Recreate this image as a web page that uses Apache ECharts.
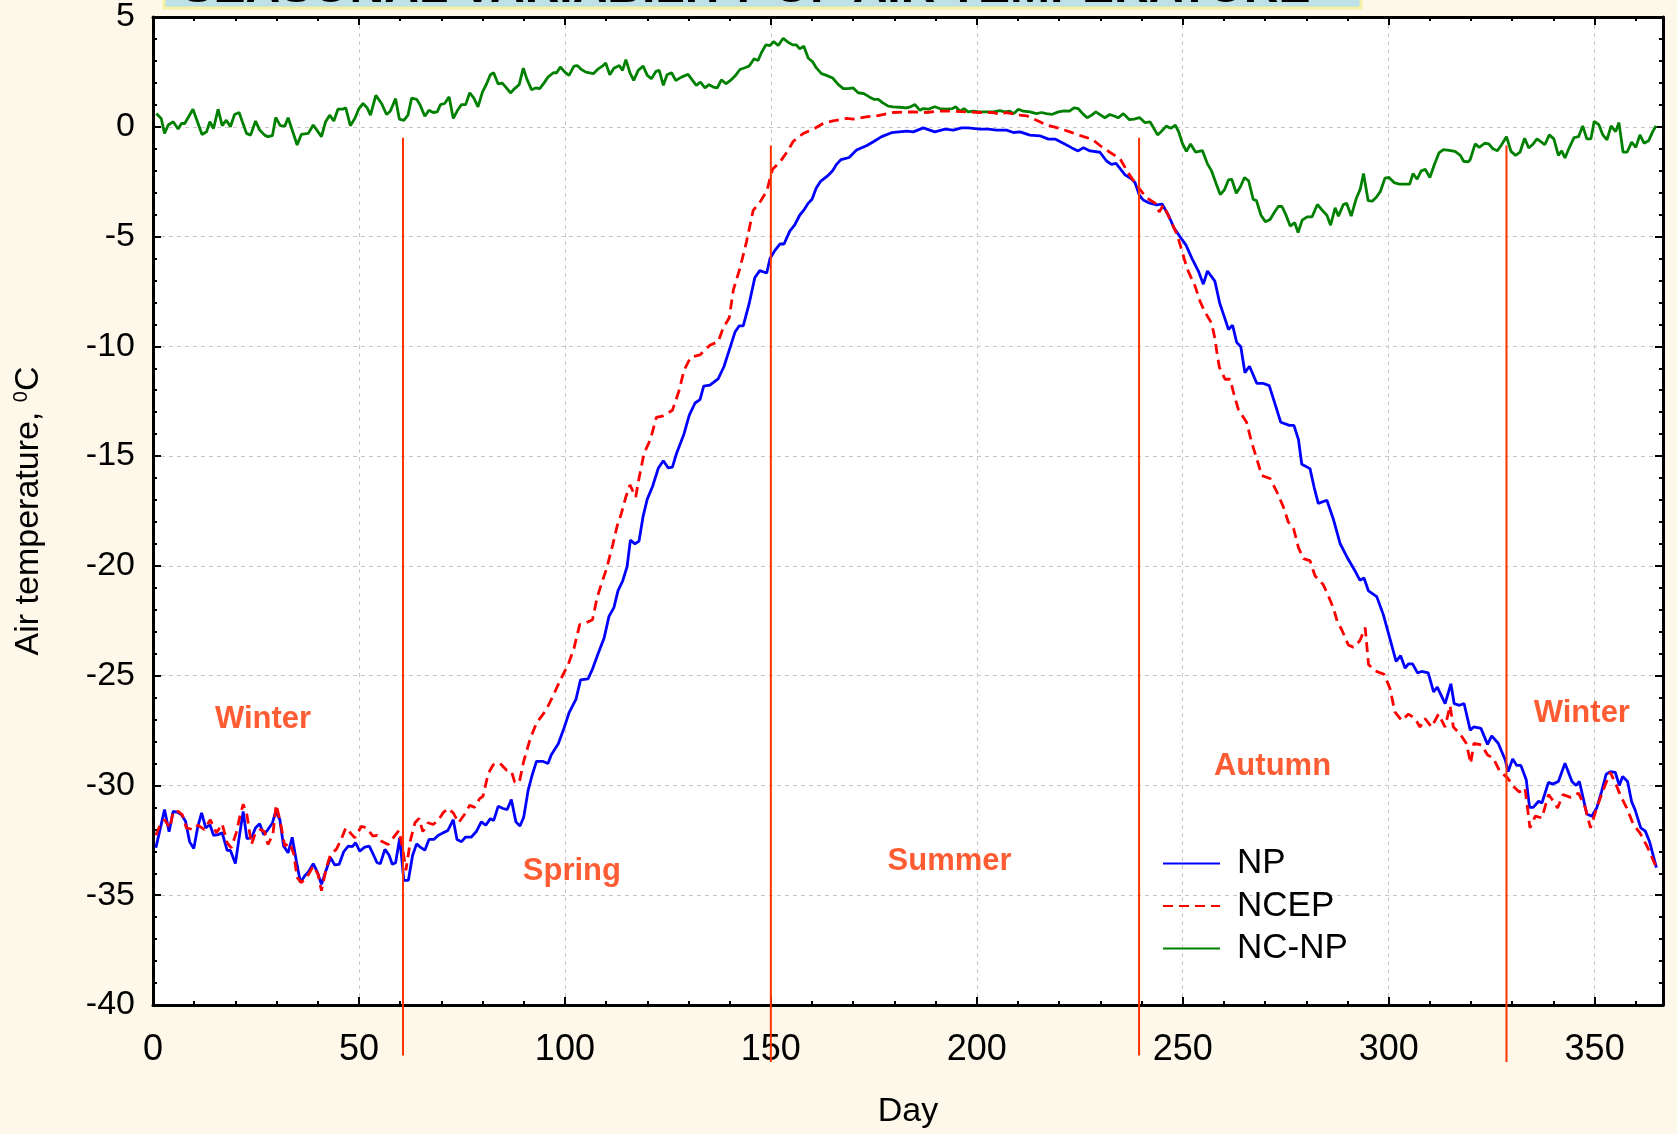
<!DOCTYPE html>
<html>
<head>
<meta charset="utf-8">
<title>Seasonal variability of air temperature</title>
<script src="https://cdn.jsdelivr.net/npm/echarts@6/dist/echarts.min.js"></script>
<style>
  html, body { margin: 0; padding: 0; background: #fdf8ea; }
  #chart { width: 1677px; height: 1134px; }
</style>
</head>
<body>
<div id="chart"></div>
<script>
// [day of year, air temperature °C]
const npPoints = [
  [0.7,-32.84],[1.8,-31.93],[2.8,-31.10],[3.9,-32.11],[4.9,-31.18],[5.8,-31.21],[6.9,-31.33],[7.9,-31.63],[8.9,-32.57],[9.9,-32.87],
  [10.9,-31.86],[11.8,-31.25],[12.8,-31.93],[13.8,-31.78],[14.7,-32.27],[15.8,-32.24],[16.8,-32.16],[18.0,-32.96],[18.8,-32.96],[20.0,-33.56],
  [20.9,-32.39],[21.9,-31.18],[22.8,-32.42],[23.9,-32.39],[24.9,-31.93],[25.9,-31.75],[26.9,-32.24],[27.9,-32.01],[29.0,-31.71],[29.8,-31.18],
  [30.8,-31.56],[31.7,-32.76],[32.8,-33.07],[33.8,-32.36],[34.8,-33.44],[35.8,-34.42],[36.8,-34.12],[37.6,-33.97],[38.9,-33.56],[39.8,-33.90],
  [40.9,-34.50],[42.0,-33.87],[43.1,-33.29],[44.1,-33.62],[45.2,-33.59],[46.3,-33.02],[47.4,-32.76],[48.4,-32.79],[49.2,-32.61],[50.2,-32.99],
  [51.4,-32.81],[52.5,-32.76],[53.4,-33.11],[54.4,-33.52],[55.2,-33.56],[56.3,-32.91],[57.3,-33.17],[58.1,-33.59],[58.9,-33.52],[59.9,-32.39],
  [60.9,-34.32],[62.0,-34.32],[63.0,-33.2],[64.0,-32.66],[64.9,-32.81],[66.0,-32.95],[67.0,-32.46],[68.2,-32.46],[69.2,-32.28],[70.4,-32.16],
  [71.6,-32.05],[72.9,-31.56],[73.8,-32.46],[74.9,-32.56],[75.9,-32.35],[77.3,-32.35],[78.5,-32.1],[79.7,-31.66],[80.8,-31.81],[81.9,-31.51],
  [82.7,-31.60],[83.8,-30.95],[85.0,-31.05],[86.0,-31.10],[87.0,-30.64],[88.1,-31.66],[89.1,-31.85],[90.0,-31.45],[91.1,-30.2],[92.1,-29.5],
  [93.1,-28.9],[94.6,-28.9],[95.9,-29.0],[96.7,-28.6],[98.4,-28.1],[99.6,-27.49],[101.0,-26.7],[102.7,-26.07],[103.8,-25.19],[105.6,-25.15],
  [106.7,-24.7],[108.1,-23.98],[109.5,-23.3],[110.7,-22.3],[111.9,-21.9],[112.9,-21.13],[114.0,-20.7],[115.1,-20.03],[115.9,-18.83],[117.0,-19.0],
  [118.0,-18.87],[119.0,-17.73],[120.0,-16.96],[121.3,-16.37],[122.7,-15.54],[123.9,-15.21],[125.1,-15.54],[126.1,-15.5],[127.1,-14.88],[128.9,-14.0],
  [130.2,-13.13],[131.6,-12.58],[132.8,-12.43],[133.7,-11.81],[135.2,-11.77],[137.2,-11.48],[138.6,-10.93],[139.9,-10.17],[141.3,-9.35],[142.3,-9.07],
  [143.3,-9.07],[144.7,-8.08],[146.1,-6.88],[147.3,-6.55],[149.0,-6.66],[149.8,-6.0],[151.0,-5.63],[152.2,-5.34],[153.2,-5.34],[154.6,-4.75],
  [155.8,-4.47],[157.0,-4.03],[158,-3.8],[159,-3.5],[160,-3.3],[161,-2.8],[162,-2.5],[163,-2.35],[164,-2.2],[165,-2.0],
  [166,-1.7],[167,-1.5],[168,-1.45],[169,-1.4],[170.8,-1.06],[173.2,-0.86],[174.9,-0.68],[176.9,-0.45],[179.3,-0.27],[183.0,-0.20],
  [184.6,-0.23],[187.0,-0.05],[189.8,-0.23],[192.3,-0.11],[194.3,-0.15],[196.3,-0.05],[197.9,-0.05],[200.8,-0.11],[202.8,-0.11],[204.8,-0.15],
  [207.2,-0.15],[208.9,-0.26],[210.5,-0.23],[212.9,-0.38],[215.3,-0.41],[217.4,-0.56],[219.0,-0.56],[221.0,-0.75],[223.0,-0.95],[224.6,-1.10],
  [225.9,-0.95],[227.5,-1.10],[229.9,-1.16],[231.5,-1.56],[232.7,-1.71],[233.8,-1.67],[234.8,-1.91],[236.0,-2.19],[237.6,-2.38],[238.4,-2.54],
  [239.5,-3.13],[240.4,-3.33],[242.0,-3.48],[243.7,-3.56],[245.0,-3.52],[246.5,-4.02],[247.9,-4.61],[249.3,-5.0],[250.8,-5.39],[252.2,-5.98],
  [253.8,-6.57],[255.0,-7.17],[256.0,-6.57],[257.8,-7.03],[259.0,-8.05],[260.0,-8.6],[261.1,-9.23],[262.1,-9.04],[263.1,-9.82],[264.1,-10.02],
  [265.1,-11.2],[266.2,-10.91],[268.0,-11.69],[269.6,-11.69],[271.0,-11.79],[272.4,-12.62],[273.8,-13.46],[275.9,-13.6],[277.0,-13.6],[278.1,-14.25],
  [278.9,-15.37],[280.9,-15.57],[281.9,-16.42],[282.9,-17.15],[285.0,-17.01],[286.6,-17.89],[288.2,-18.98],[289.8,-19.57],[291.8,-20.22],[293.0,-20.65],
  [294.0,-20.55],[295.1,-21.14],[297.1,-21.4],[298.7,-22.22],[300.3,-23.31],[301.8,-24.35],[302.9,-24.09],[304.0,-24.66],[304.8,-24.46],[305.8,-24.46],
  [307.0,-24.87],[308.0,-24.81],[309.6,-24.87],[310.9,-25.74],[311.8,-25.52],[313.7,-26.27],[315.1,-25.37],[315.9,-26.27],[317.2,-26.35],[318.3,-26.27],
  [319.8,-27.48],[320.7,-27.33],[322.4,-27.40],[324.0,-28.13],[325.0,-27.74],[326.6,-28.08],[328.3,-28.84],[329.0,-29.37],[330.1,-28.79],[331.1,-29.09],
  [332.1,-29.09],[333.4,-29.74],[334.2,-31.0],[335.1,-31.0],[336.4,-30.72],[337.2,-30.8],[338.8,-29.86],[339.8,-29.94],[341.2,-29.82],[342.8,-28.99],
  [344.5,-29.82],[345.5,-30.0],[346.3,-29.82],[348.1,-31.3],[349.3,-31.4],[350.5,-31.03],[351.7,-30.27],[352.8,-29.49],[353.8,-29.37],[355.0,-29.4],
  [356.0,-30.0],[356.8,-29.59],[358.0,-29.82],[359.0,-30.75],[359.8,-31.1],[361.2,-31.93],[362.3,-32.08],[363.3,-32.54],[365.0,-33.74]
];

const ncepPoints = [
  [0.7,-32.27],[1.6,-31.86],[2.8,-31.56],[4.1,-31.93],[4.9,-31.18],[6.1,-31.18],[7.1,-31.33],[8.1,-31.93],[9.7,-32.01],[10.9,-31.81],
  [12.5,-32.01],[13.9,-31.56],[15.4,-32.16],[16.8,-31.75],[18.0,-32.61],[19.0,-32.84],[20.2,-32.16],[21.1,-31.41],[21.9,-30.85],[22.8,-31.33],
  [23.9,-32.69],[24.9,-32.16],[26.1,-32.01],[27.1,-32.11],[27.9,-32.69],[29.1,-32.24],[29.9,-30.88],[30.8,-31.56],[32.0,-32.76],[33.2,-32.61],
  [34.2,-33.14],[35.0,-34.20],[36.0,-34.42],[37.2,-34.23],[38.9,-33.67],[40.1,-34.05],[40.9,-34.80],[42.1,-33.74],[43.1,-33.14],[44.5,-32.91],
  [45.7,-32.46],[46.8,-31.93],[47.9,-32.16],[49.0,-32.39],[50.6,-31.86],[51.8,-31.93],[53.4,-32.31],[54.4,-32.27],[55.5,-32.54],[57.1,-32.69],
  [58.3,-32.39],[59.7,-32.05],[60.6,-32.84],[61.4,-33.87],[62.5,-32.5],[63.6,-31.7],[64.6,-31.5],[65.5,-32.1],[66.8,-31.7],[68.0,-31.78],
  [69.2,-31.6],[70.4,-31.25],[71.6,-31.05],[72.9,-31.25],[74.2,-31.7],[75.7,-31.3],[76.9,-30.9],[78.1,-31.0],[79.3,-30.6],[80.1,-30.5],
  [81.4,-29.45],[82.6,-29.06],[84.2,-28.98],[85.8,-29.3],[87.0,-29.35],[87.8,-29.84],[88.9,-29.88],[90.0,-28.9],[91.6,-27.86],[93.1,-27.16],
  [95.5,-26.55],[97.2,-25.89],[98.9,-25.19],[100.8,-24.49],[102.2,-23.76],[103.6,-22.67],[105.1,-22.6],[106.7,-22.45],[107.8,-21.46],[108.9,-20.8],
  [110.1,-20.14],[111.6,-19.05],[112.7,-18.17],[113.7,-17.62],[114.8,-16.86],[115.8,-16.31],[117.2,-16.86],[117.8,-16.2],[119.2,-14.88],[120.8,-14.22],
  [122.2,-13.24],[123.9,-13.17],[126.1,-12.91],[127.7,-12.03],[128.9,-11.11],[130.5,-10.5],[132.8,-10.39],[135.2,-9.95],[137.2,-9.79],[138.4,-9.18],
  [139.9,-8.7],[140.9,-7.43],[142.5,-6.44],[144.1,-5.23],[145.7,-3.81],[147.2,-3.48],[149.0,-2.93],[150.4,-1.94],[152.2,-1.61],[154.2,-1.07],
  [155.4,-0.67],[157.9,-0.30],[160.3,-0.11],[162.7,0.15],[165.1,0.27],[168.4,0.38],[170.0,0.35],[173.2,0.45],[175.7,0.50],[179.7,0.65],
  [184.6,0.68],[187.8,0.65],[190.2,0.71],[194.3,0.71],[197.5,0.68],[200.8,0.65],[204.0,0.65],[205.6,0.56],[207.2,0.65],[210.5,0.53],
  [212.1,0.50],[215.3,0.23],[216.9,0.08],[220.2,-0.08],[222.6,-0.23],[225.9,-0.45],[227.9,-0.56],[230.3,-0.91],[232.3,-1.16],[234.8,-1.46],
  [236.8,-2.11],[238.0,-2.44],[239.5,-2.83],[241.2,-3.23],[243.3,-3.48],[244.3,-3.88],[245.3,-3.56],[246.9,-4.21],[248.7,-4.94],[249.7,-5.59],
  [251.1,-6.48],[253.0,-7.26],[254.2,-7.95],[255.4,-8.44],[257.0,-8.94],[257.8,-9.63],[258.4,-10.41],[258.9,-10.96],[260.3,-11.5],[261.5,-11.5],
  [262.3,-12.09],[263.5,-12.87],[265.5,-13.46],[266.7,-14.35],[268.0,-15.14],[269.2,-15.89],[271.2,-16.02],[272.8,-16.61],[274.4,-17.3],[275.6,-17.99],
  [276.9,-18.29],[278.1,-19.17],[279.3,-19.67],[280.9,-19.76],[282.1,-20.45],[284.1,-20.85],[285.3,-21.34],[286.6,-21.93],[287.5,-22.52],[288.6,-22.91],
  [290.2,-23.6],[291.4,-23.7],[293.0,-23.41],[294.3,-22.81],[295.1,-24.49],[296.7,-24.78],[298.9,-24.94],[300.3,-25.57],[301.5,-26.65],[303.2,-27.05],
  [304.8,-26.75],[306.4,-26.95],[307.6,-27.34],[308.8,-26.95],[310.4,-27.34],[312.1,-26.75],[313.7,-27.34],[314.9,-26.36],[315.7,-27.34],[317.3,-27.64],
  [318.9,-28.1],[319.9,-29.0],[320.7,-28.08],[322.6,-28.16],[324.0,-28.61],[325.4,-28.76],[327.0,-29.37],[328.8,-29.64],[330.3,-30.05],[331.7,-30.3],
  [333.1,-30.12],[334.3,-31.93],[335.6,-31.4],[337.2,-31.48],[338.8,-30.42],[340.0,-30.72],[341.0,-31.03],[342.3,-30.42],[344.2,-30.54],[346.1,-30.35],
  [347.7,-31.0],[349.0,-31.93],[350.5,-31.03],[352.1,-30.2],[353.8,-29.4],[355.2,-29.97],[356.2,-30.42],[357.8,-31.03],[359.4,-31.78],[361.0,-32.16],
  [362.7,-32.76],[365.0,-33.74]
];

// NCEP minus NP
const diffPoints = [
  [0.8,0.60],[2.0,0.38],[2.8,-0.30],[3.7,0.08],[4.9,0.23],[6.1,-0.10],[6.9,0.15],[7.7,0.15],[9.7,0.80],[11.9,-0.35],
  [13.0,-0.23],[13.8,0.23],[14.7,-0.08],[15.8,0.80],[16.8,0.05],[17.8,0.30],[18.8,0.00],[19.8,0.56],[20.9,0.65],[22.7,-0.30],
  [23.7,-0.38],[24.9,0.26],[25.9,-0.15],[27.1,-0.38],[27.9,-0.45],[29.0,-0.40],[29.8,0.42],[30.9,0.05],[32.0,0.03],[32.8,0.41],
  [35.0,-0.83],[36.0,-0.35],[37.7,-0.30],[38.9,0.08],[40.9,-0.45],[41.9,0.23],[42.9,0.53],[43.9,0.26],[44.9,0.80],[46.0,0.80],
  [46.8,0.86],[47.9,0.05],[49.0,0.38],[50.0,0.83],[51.0,1.06],[52.0,0.86],[52.8,0.53],[54.1,1.43],[55.5,1.06],[56.7,0.56],
  [57.6,0.71],[58.9,1.28],[59.8,0.35],[60.9,0.29],[61.9,0.53],[62.8,1.31],[64.0,1.25],[64.8,1.01],[66.0,0.48],[67.0,0.75],
  [68.0,0.65],[69.0,0.68],[69.8,1.01],[70.8,1.06],[71.9,1.36],[72.9,0.38],[74.1,0.80],[74.9,1.01],[75.9,1.01],[76.9,1.55],
  [77.9,1.31],[78.9,0.91],[80.0,1.59],[81.0,1.96],[81.9,2.37],[82.7,2.46],[83.8,1.95],[84.8,1.99],[85.8,1.77],[86.8,1.54],
  [87.8,1.74],[88.9,1.92],[89.9,2.67],[90.8,2.16],[91.9,1.69],[92.9,1.77],[93.9,1.74],[94.9,1.99],[95.9,2.26],[97.2,2.46],
  [98.0,2.46],[98.9,2.72],[100.0,2.49],[101.0,2.34],[102.2,2.76],[103.0,2.79],[104.0,2.61],[105.1,2.49],[106.9,2.42],[108.1,2.64],
  [109.1,2.76],[109.9,2.91],[110.9,2.37],[111.9,2.67],[113.2,2.79],[114.0,2.57],[114.8,3.06],[115.8,2.46],[116.7,2.11],[117.8,2.57],
  [119.0,2.76],[120.0,2.34],[121.0,2.19],[122.1,2.52],[122.9,2.57],[123.9,1.89],[124.8,2.37],[125.9,2.46],[126.9,2.11],[128.3,2.26],
  [129.9,2.39],[131.0,2.11],[131.9,1.89],[132.9,2.04],[134.0,1.77],[135.0,1.92],[136.0,1.81],[137.0,1.77],[138.0,2.14],[139.1,1.96],
  [140.2,2.11],[141.3,2.31],[142.5,2.61],[143.7,2.69],[144.7,2.76],[145.9,3.09],[146.9,3.02],[147.7,3.37],[148.8,3.73],[149.8,3.70],
  [150.7,3.88],[151.8,3.70],[153.0,4.03],[154.2,3.85],[155.3,3.73],[156.2,3.73],[157.0,3.55],[158.0,3.67],[159.1,3.12],[160.1,2.97],
  [161.1,2.67],[162.3,2.42],[163.5,2.34],[165.0,2.22],[166.4,1.92],[167.6,1.74],[168.8,1.74],[170.0,1.77],[171.2,1.55],[172.6,1.51],
  [173.9,1.36],[175.0,1.25],[176.1,1.25],[177.1,1.10],[178.5,0.94],[179.7,0.91],[181.3,0.89],[182.9,0.86],[183.9,0.91],[185.0,1.01],
  [186.2,0.75],[187.0,0.83],[188.2,0.80],[189.8,0.91],[191.0,0.83],[192.7,0.80],[194.1,0.83],[194.9,0.91],[195.9,0.71],[196.9,0.83],
  [197.9,0.68],[199.1,0.71],[200.6,0.68],[202.4,0.68],[204.0,0.68],[205.6,0.74],[206.8,0.68],[208.0,0.71],[209.0,0.60],[210.1,0.80],
  [211.3,0.71],[212.9,0.68],[214.5,0.60],[215.7,0.65],[216.9,0.60],[218.2,0.56],[219.8,0.68],[221.2,0.72],[222.5,0.71],[223.6,0.86],
  [224.6,0.83],[225.7,0.60],[226.8,0.41],[227.9,0.53],[228.9,0.68],[230.1,0.53],[231.1,0.41],[232.3,0.56],[233.5,0.48],[234.3,0.41],
  [235.6,0.60],[237.0,0.33],[238.2,0.35],[239.5,0.42],[240.8,0.19],[242.1,0.22],[243.9,-0.37],[244.9,-0.19],[246.0,0.03],[247.1,-0.07],
  [248.2,0.07],[249.0,-0.22],[249.9,-0.75],[250.9,-1.12],[251.9,-0.78],[253.1,-1.15],[254.8,-1.09],[256.0,-1.69],[257.0,-2.01],[258.1,-2.58],
  [259.1,-3.09],[260.1,-2.88],[261.1,-2.42],[261.9,-2.39],[263.0,-3.03],[264.0,-2.73],[265.0,-2.31],[266.0,-2.46],[267.1,-3.31],[267.9,-3.36],
  [269.0,-4.03],[270.1,-4.33],[271.2,-4.22],[272.3,-3.88],[273.2,-3.63],[274.1,-3.63],[275.0,-3.99],[276.1,-4.52],[277.2,-4.37],[278.0,-4.82],
  [279.0,-4.25],[280.2,-4.10],[281.4,-4.10],[282.7,-3.54],[283.9,-3.81],[285.0,-4.03],[285.9,-4.48],[287.0,-3.69],[287.8,-4.07],[289.0,-3.54],
  [289.8,-3.48],[290.9,-4.07],[292.1,-3.28],[293.1,-2.84],[293.9,-2.13],[295.0,-3.36],[296.0,-3.39],[297.0,-3.21],[298.0,-2.94],[299.1,-2.34],
  [300.1,-2.31],[301.3,-2.54],[302.6,-2.61],[304.0,-2.61],[305.1,-2.61],[305.9,-2.13],[306.9,-2.39],[307.9,-2.01],[308.9,-1.94],[310.0,-2.31],
  [311.1,-1.72],[312.2,-1.19],[313.3,-1.04],[314.7,-1.07],[316.1,-1.12],[317.4,-1.30],[318.2,-1.57],[319.3,-1.60],[319.8,-1.49],[321.0,-0.78],
  [322.0,-0.94],[323.3,-0.75],[324.3,-0.78],[325.3,-1.00],[326.4,-1.09],[327.4,-0.82],[328.6,-0.45],[329.7,-1.12],[330.8,-1.30],[331.9,-1.15],
  [333.0,-0.52],[334.0,-0.97],[334.9,-0.82],[336.0,-0.55],[337.1,-0.70],[337.9,-0.82],[339.0,-0.37],[340.1,-0.55],[341.2,-1.30],[342.0,-1.09],
  [342.8,-1.42],[343.8,-0.97],[345.0,-0.49],[346.1,-0.45],[347.1,0.04],[348.1,-0.55],[349.1,-0.55],[349.9,0.25],[351.0,0.10],[352.0,-0.37],
  [353.0,-0.60],[354.0,0.04],[355.1,-0.22],[355.9,0.19],[356.9,-1.15],[357.9,-1.15],[359.0,-0.70],[360.0,-0.94],[361.0,-0.37],[362.0,-0.75],
  [363.1,-0.64],[364.1,-0.22],[364.9,0.04]
];

// season boundaries (day) and the extent of each marker line (°C)
const boundaryDays = [60.7, 150.0, 239.4, 328.6];
const boundaryTop = [-0.5, -0.85, -0.5, -0.85];
const boundaryBottom = [-42.3, -42.6, -42.3, -42.6];

const seasonNames = ['Winter', 'Spring', 'Summer', 'Autumn', 'Winter'];
const seasonDays = [26.7, 101.7, 193.4, 271.8, 346.9];
const seasonTemps = [-27.0, -33.9, -33.48, -29.12, -26.72];

const SANS = '"Liberation Sans", Arial, sans-serif';
const BLACK = '#000';
const SEASON_RED = '#ff3300';

const X_MIN = 0, X_MAX = 366.6;
const gridDash = { color: '#c8c8c8', type: [4, 4], width: 1 };

function xAxisDef(pos, interval, major) {
  return {
    type: 'value', position: pos, min: X_MIN, max: X_MAX, interval: interval,
    axisLine: { show: major, onZero: false, lineStyle: { color: BLACK, width: 3 } },
    axisTick: { show: true, inside: true, length: major ? 8 : 4, lineStyle: { color: BLACK, width: 2 } },
    axisLabel: { show: false },
    splitLine: { show: false },
  };
}

const xAxes = [
  Object.assign(xAxisDef('bottom', 50, true), {
    axisLabel: { show: true, margin: 27, fontFamily: SANS, fontSize: 36, color: BLACK, showMaxLabel: false },
    splitLine: { show: true, lineStyle: gridDash },
    name: 'Day', nameLocation: 'middle', nameGap: 90,
    nameTextStyle: { fontFamily: SANS, fontSize: 34, color: BLACK },
  }),
  xAxisDef('bottom', 10, false),
  xAxisDef('top', 50, true),
  xAxisDef('top', 10, false),
];

function yAxisDef(pos) {
  return {
    type: 'value', position: pos, min: -40, max: 5, interval: 5,
    axisLine: { show: true, onZero: false, lineStyle: { color: BLACK, width: 3 } },
    axisTick: { show: true, inside: true, length: 8, lineStyle: { color: BLACK, width: 2 } },
    minorTick: { show: true, splitNumber: 5, length: 4, lineStyle: { color: BLACK, width: 2 } },
    axisLabel: { show: false },
    splitLine: { show: false },
  };
}

const yAxes = [
  Object.assign(yAxisDef('left'), {
    axisLabel: { show: true, margin: 18, fontFamily: SANS, fontSize: 34, color: BLACK },
    splitLine: { show: true, lineStyle: gridDash },
    name: 'Air temperature, {sup|0}C', nameLocation: 'middle', nameRotate: 90, nameGap: 106,
    nameTextStyle: {
      fontFamily: SANS, fontSize: 34, color: BLACK, lineHeight: 36,
      rich: { sup: { fontFamily: SANS, fontSize: 20, color: BLACK, verticalAlign: 'top', lineHeight: 36 } },
    },
  }),
  yAxisDef('right'),
];

const chart = echarts.init(document.getElementById('chart'));

chart.setOption({
  backgroundColor: '#fdf8ea',
  animation: false,
  grid: { left: 153, right: 14, top: 14.5, bottom: 126, show: true, backgroundColor: '#ffffff', borderWidth: 0 },
  graphic: [
    // title banner, mostly cut off by the top edge
    { type: 'rect', shape: { x: 164, y: -40, width: 1197, height: 48 }, style: { fill: '#bde1e6', stroke: '#f4f0a4', lineWidth: 3 }, silent: true, z: 10 },
    { type: 'text', x: 746, y: -11, style: { text: 'SEASONAL VARIABILITY OF AIR TEMPERATURE', font: 'bold 48px ' + SANS, fill: BLACK, align: 'center', verticalAlign: 'middle' }, silent: true, z: 11 },
  ],
  legend: {
    orient: 'vertical', left: 1162, top: 846, padding: 0, itemGap: 7.5,
    itemWidth: 57, itemHeight: 14,
    itemStyle: { opacity: 0 },
    textStyle: { fontFamily: SANS, fontSize: 35, color: BLACK, padding: [0, 0, 0, 12] },
    data: ['NP', 'NCEP', 'NC-NP'],
  },
  xAxis: xAxes,
  yAxis: yAxes,
  series: [
    {
      name: 'NP', type: 'line', data: npPoints, symbol: 'none', z: 3,
      lineStyle: { color: '#0000ff', width: 2.8 }, itemStyle: { color: '#0000ff' },
    },
    {
      name: 'NCEP', type: 'line', data: ncepPoints, symbol: 'none', z: 4,
      lineStyle: { color: '#ff0000', width: 2.8, type: [10, 6] }, itemStyle: { color: '#ff0000' },
    },
    {
      name: 'NC-NP', type: 'line', data: diffPoints, symbol: 'none', z: 3,
      lineStyle: { color: '#008000', width: 2.8 }, itemStyle: { color: '#008000' },
    },
    ...boundaryDays.map((d, i) => ({
      type: 'line', data: [[d, boundaryTop[i]], [d, boundaryBottom[i]]], symbol: 'none', clip: false, silent: true, z: 5,
      lineStyle: { color: SEASON_RED, width: 2 },
    })),
    {
      type: 'scatter', symbolSize: 0, silent: true, z: 6,
      data: seasonNames.map((n, i) => ({ name: n, value: [seasonDays[i], seasonTemps[i]] })),
      label: { show: true, position: 'inside', formatter: '{b}', color: SEASON_RED, fontFamily: SANS, fontWeight: 'bold', fontSize: 31 },
    },
  ],
});
</script>
</body>
</html>
